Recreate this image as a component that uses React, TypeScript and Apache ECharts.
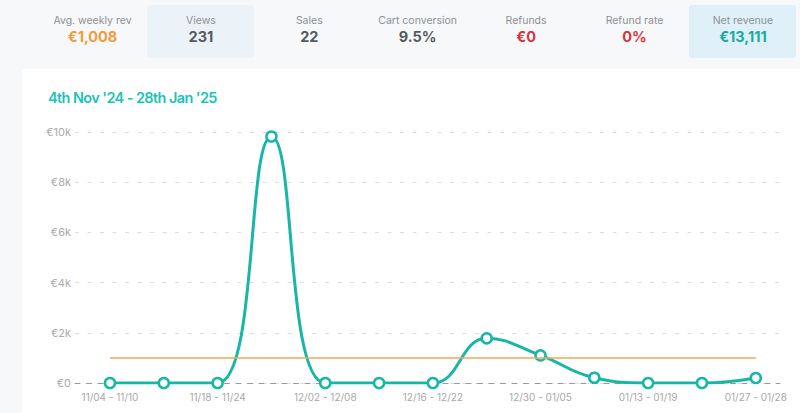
import { useEffect, useRef } from 'react'
import * as echarts from 'echarts'

const weeks = [
  '11/04 - 11/10', '11/11 - 11/17', '11/18 - 11/24', '11/25 - 12/01',
  '12/02 - 12/08', '12/09 - 12/15', '12/16 - 12/22', '12/23 - 12/29',
  '12/30 - 01/05', '01/06 - 01/12', '01/13 - 01/19', '01/20 - 01/26',
  '01/27 - 01/28',
]
const revenue = [0, 0, 0, 9820, 0, 0, 0, 1780, 1100, 210, 0, 0, 201]
const yTicks = ['€0', '€2k', '€4k', '€6k', '€8k', '€10k']

const kpiLabels = ['Avg. weekly rev', 'Views', 'Sales', 'Cart conversion', 'Refunds', 'Refund rate', 'Net revenue']
const kpiValues = ['€1,008', '231', '22', '9.5%', '€0', '0%', '€13,111']
const kpiColors = ['#f29b3c', '#555a60', '#555a60', '#555a60', '#d8343c', '#d8343c', '#1aaba1']
const kpiBoxes = ['', '#ecf3f8', '', '', '', '', '#dff0f8']

const TEAL = '#17b6a6'
const FONT = 'Inter, "Noto Sans", sans-serif'

function RevenueChart() {
  const chartRef = useRef<HTMLDivElement>(null)

  useEffect(() => {
    if (!chartRef.current) return
    const chart = echarts.init(chartRef.current, null, { renderer: 'svg' })
    const avg = revenue.reduce((a, b) => a + b, 0) / revenue.length

    chart.setOption({
      animation: false,
      grid: { left: 53, right: 20, top: 63, bottom: 30 },
      xAxis: {
        type: 'value',
        min: -0.65,
        max: 12.45,
        splitLine: { show: false },
        axisTick: { show: false },
        axisLine: { show: true, lineStyle: { color: '#9a9a9a', type: [5, 6.5], width: 1 } },
        axisLabel: {
          customValues: [0, 2, 4, 6, 8, 10, 12],
          formatter: (v: number) => weeks[Math.round(v)] ?? '',
          color: '#a8a8a8',
          fontSize: 10,
          fontFamily: FONT,
          margin: 9,
        },
      },
      yAxis: {
        type: 'value',
        min: 0,
        max: 10000,
        interval: 2000,
        axisLine: { show: false },
        axisTick: { show: false },
        axisLabel: {
          formatter: (v: number) => yTicks[Math.round(v / 2000)],
          color: '#ababab',
          fontSize: 11,
          fontFamily: FONT,
          margin: 4,
        },
        splitLine: { lineStyle: { color: '#dedede', type: [4, 8.5], width: 1 } },
      },
      series: [
        {
          type: 'line',
          data: revenue.map((v, i) => [i, v]),
          smooth: 0.45,
          symbol: 'circle',
          symbolSize: 10,
          lineStyle: { color: TEAL, width: 3 },
          itemStyle: { color: '#fff', borderColor: TEAL, borderWidth: 2.5 },
          z: 3,
          markLine: {
            silent: true,
            symbol: 'none',
            label: { show: false },
            lineStyle: { color: '#f5a65b', type: 'solid', width: 1.5 },
            data: [[{ coord: [0, avg] }, { coord: [weeks.length - 1, avg] }]],
          },
        },
      ],
    })

    return () => chart.dispose()
  }, [])

  return <div ref={chartRef} style={{ width: 778, height: 344 }} />
}

export default function App() {
  return (
    <div
      style={{
        position: 'fixed', left: 0, top: 0, width: 800, height: 413,
        background: '#f7f8fa', fontFamily: FONT, overflow: 'hidden',
      }}
    >
      {kpiLabels.map((label, i) => (
        <div
          key={label}
          style={{
            position: 'absolute', left: 39 + i * 108.4, top: 5, width: 107, height: 53,
            background: kpiBoxes[i] || 'transparent', borderRadius: 3, textAlign: 'center',
          }}
        >
          <div style={{ position: 'absolute', top: 9, width: '100%', fontSize: 10.5, lineHeight: '13px', color: '#8c9095' }}>
            {label}
          </div>
          <div style={{ position: 'absolute', top: 23, width: '100%', fontSize: 14.5, lineHeight: '18px', fontWeight: 700, color: kpiColors[i] }}>
            {kpiValues[i]}
          </div>
        </div>
      ))}
      <div style={{ position: 'absolute', left: 22, top: 69, width: 778, height: 344, background: '#fff' }}>
        <RevenueChart />
        <div
          style={{
            position: 'absolute', left: 26, top: 20, fontSize: 14.5, lineHeight: '18px',
            fontWeight: 600, letterSpacing: '-0.6px', color: '#1cc3b6', whiteSpace: 'nowrap',
          }}
        >
          4th Nov '24 - 28th Jan '25
        </div>
      </div>
    </div>
  )
}
